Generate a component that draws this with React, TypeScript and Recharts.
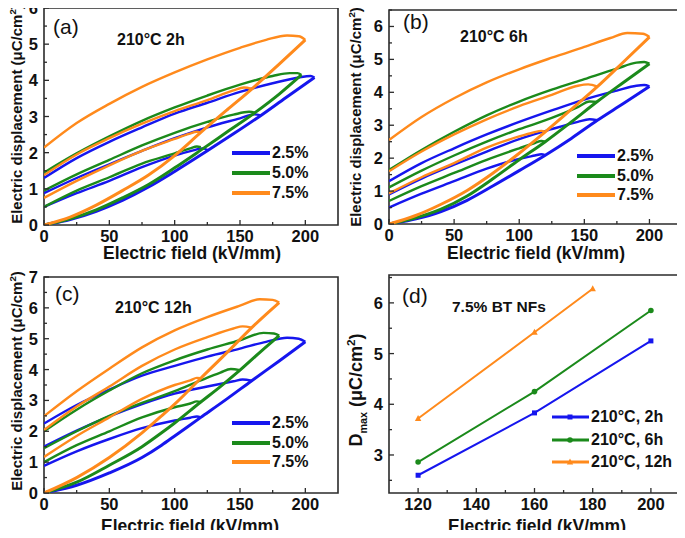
import { Line, LineChart, ReferenceArea, XAxis, YAxis } from "recharts";

type Pt = [number, number];

const BLUE = "#1616ee";
const GREEN = "#1b8a1b";
const ORANGE = "#ff8a1c";
const AXIS = "#2b2b2b";
const FONT = "'Liberation Sans', Arial, Helvetica, sans-serif";

const LOOP_COLORS = [BLUE, GREEN, ORANGE];
const LOOP_LABELS = ["2.5%", "5.0%", "7.5%"];

const FIELD_TICKS = [0, 25, 50, 75, 100, 125, 150, 175, 200];
const FIELD_LABELS = [0, 50, 100, 150, 200];
const DISP_TICKS_6 = [0, 0.5, 1, 1.5, 2, 2.5, 3, 3.5, 4, 4.5, 5, 5.5, 6];
const DISP_TICKS_65 = [0, 0.5, 1, 1.5, 2, 2.5, 3, 3.5, 4, 4.5, 5, 5.5, 6, 6.5];
const DISP_TICKS_7 = [0, 0.5, 1, 1.5, 2, 2.5, 3, 3.5, 4, 4.5, 5, 5.5, 6, 6.5, 7];
const DISP_LABELS = [0, 1, 2, 3, 4, 5, 6, 7];

// (a) 210°C 2h — charging branch + discharge branches of the 3 loops
const a25Charge: Pt[] = [[0, 0], [20, 0.15], [40, 0.38], [60, 0.68], [80, 1.05], [100, 1.48], [125, 2.05], [145, 2.52], [166, 3.03], [185, 3.52], [207, 4.08]];
const a25Loops: Pt[][] = [
  [[0, 0.5], [25, 0.88], [50, 1.22], [75, 1.6], [100, 1.92], [115, 2.07], [121, 2.12], [125, 2.08]],
  [[0, 0.88], [25, 1.3], [50, 1.68], [75, 2.05], [100, 2.4], [125, 2.7], [150, 2.95], [161, 3.06], [166, 3.03]],
  [[0, 1.3], [25, 1.85], [50, 2.3], [75, 2.7], [100, 3.08], [125, 3.38], [150, 3.68], [175, 3.92], [195, 4.08], [204, 4.12], [207, 4.08]],
];
const a50Charge: Pt[] = [[0, 0], [20, 0.17], [40, 0.42], [60, 0.75], [80, 1.12], [100, 1.58], [120, 2.07], [140, 2.57], [162, 3.12], [180, 3.62], [197, 4.15]];
const a50Loops: Pt[][] = [
  [[0, 0.5], [25, 0.95], [50, 1.32], [75, 1.7], [100, 1.98], [112, 2.12], [117, 2.17], [120, 2.15]],
  [[0, 0.95], [25, 1.4], [50, 1.8], [75, 2.2], [100, 2.55], [125, 2.85], [145, 3.05], [157, 3.13], [162, 3.1]],
  [[0, 1.45], [25, 1.98], [50, 2.45], [75, 2.88], [100, 3.25], [125, 3.58], [150, 3.88], [175, 4.12], [188, 4.2], [194, 4.2], [197, 4.15]],
];
const a75Charge: Pt[] = [[0, 0], [20, 0.22], [40, 0.55], [60, 0.95], [80, 1.38], [100, 1.92], [120, 2.56], [140, 3.18], [159, 3.76], [180, 4.45], [200, 5.12]];
const a75Loops: Pt[][] = [
  [[0, 0.75], [25, 1.22], [50, 1.65], [75, 2.05], [100, 2.38], [111, 2.52], [117, 2.58], [120, 2.56]],
  [[0, 1.38], [25, 1.95], [50, 2.4], [75, 2.8], [100, 3.15], [125, 3.45], [145, 3.72], [153, 3.8], [159, 3.76]],
  [[0, 2.14], [25, 2.82], [50, 3.35], [75, 3.82], [100, 4.22], [125, 4.58], [150, 4.9], [170, 5.12], [186, 5.24], [195, 5.22], [200, 5.12]],
];

// (b) 210°C 6h
const b25Charge: Pt[] = [[0, 0], [20, 0.15], [40, 0.38], [60, 0.72], [80, 1.16], [100, 1.62], [120, 2.09], [140, 2.6], [160, 3.15], [180, 3.66], [200, 4.18]];
const b25Loops: Pt[][] = [
  [[0, 0.5], [25, 0.92], [50, 1.3], [75, 1.68], [100, 1.98], [112, 2.08], [117, 2.12], [120, 2.09]],
  [[0, 0.9], [25, 1.38], [50, 1.8], [75, 2.2], [100, 2.58], [125, 2.88], [145, 3.1], [154, 3.18], [160, 3.15]],
  [[0, 1.3], [25, 1.85], [50, 2.3], [75, 2.72], [100, 3.1], [125, 3.45], [150, 3.78], [175, 4.05], [190, 4.2], [196, 4.22], [200, 4.18]],
];
const b50Charge: Pt[] = [[0, 0], [20, 0.18], [40, 0.45], [60, 0.85], [80, 1.38], [100, 1.95], [120, 2.5], [140, 3.1], [160, 3.72], [180, 4.3], [200, 4.87]];
const b50Loops: Pt[][] = [
  [[0, 0.7], [25, 1.15], [50, 1.55], [75, 1.95], [100, 2.3], [112, 2.46], [117, 2.52], [120, 2.5]],
  [[0, 1.11], [25, 1.62], [50, 2.08], [75, 2.5], [100, 2.88], [125, 3.22], [145, 3.55], [154, 3.72], [160, 3.71]],
  [[0, 1.64], [25, 2.25], [50, 2.8], [75, 3.3], [100, 3.72], [125, 4.08], [150, 4.4], [175, 4.72], [190, 4.9], [196, 4.92], [200, 4.87]],
];
const b75Charge: Pt[] = [[0, 0], [20, 0.25], [40, 0.6], [60, 1.02], [80, 1.55], [100, 2.15], [120, 2.8], [140, 3.48], [160, 4.17], [180, 4.92], [200, 5.68]];
const b75Loops: Pt[][] = [
  [[0, 0.93], [25, 1.42], [50, 1.85], [75, 2.32], [100, 2.66], [111, 2.78], [117, 2.83], [120, 2.8]],
  [[0, 1.6], [25, 2.2], [50, 2.72], [75, 3.18], [100, 3.58], [125, 3.92], [145, 4.2], [153, 4.24], [160, 4.17]],
  [[0, 2.55], [25, 3.25], [50, 3.82], [75, 4.3], [100, 4.7], [125, 5.05], [150, 5.38], [170, 5.65], [183, 5.8], [195, 5.78], [200, 5.68]],
];

// (c) 210°C 12h
const c25Charge: Pt[] = [[0, 0], [25, 0.25], [50, 0.65], [75, 1.15], [90, 1.55], [100, 1.85], [120, 2.45], [140, 3.05], [159, 3.64], [180, 4.28], [200, 4.9]];
const c25Loops: Pt[][] = [
  [[0, 0.88], [25, 1.35], [50, 1.75], [75, 2.1], [100, 2.35], [112, 2.44], [117, 2.48], [120, 2.45]],
  [[0, 1.5], [25, 2.02], [50, 2.48], [75, 2.88], [100, 3.22], [125, 3.45], [145, 3.62], [152, 3.68], [159, 3.64]],
  [[0, 2.25], [25, 2.85], [50, 3.35], [75, 3.8], [100, 4.12], [125, 4.42], [150, 4.68], [170, 4.9], [186, 5.03], [195, 5.0], [200, 4.9]],
];
const c50Charge: Pt[] = [[0, 0], [25, 0.35], [50, 0.9], [75, 1.5], [90, 1.95], [100, 2.27], [120, 2.95], [135, 3.45], [150, 3.98], [165, 4.55], [180, 5.1]];
const c50Loops: Pt[][] = [
  [[0, 1.0], [25, 1.55], [50, 2.0], [75, 2.45], [100, 2.78], [112, 2.9], [117, 2.97], [120, 2.95]],
  [[0, 1.45], [25, 2.0], [50, 2.5], [75, 2.92], [100, 3.3], [120, 3.65], [135, 3.9], [143, 4.02], [150, 3.98]],
  [[0, 2.0], [25, 2.7], [50, 3.32], [75, 3.88], [100, 4.3], [125, 4.65], [150, 4.95], [168, 5.19], [176, 5.17], [180, 5.1]],
];
const c75Charge: Pt[] = [[0, 0], [25, 0.5], [50, 1.15], [75, 1.95], [90, 2.5], [100, 2.88], [120, 3.72], [140, 4.55], [159, 5.36], [180, 6.17]];
const c75Loops: Pt[][] = [
  [[0, 1.17], [25, 1.85], [50, 2.45], [75, 3.05], [100, 3.5], [112, 3.65], [117, 3.73], [120, 3.72]],
  [[0, 2.04], [25, 2.8], [50, 3.45], [75, 4.12], [100, 4.65], [125, 5.05], [145, 5.33], [152, 5.4], [159, 5.36]],
  [[0, 2.49], [25, 3.3], [50, 4.03], [75, 4.72], [100, 5.27], [125, 5.7], [150, 6.07], [165, 6.28], [175, 6.26], [180, 6.17]],
];

// (d) Dmax vs field, 7.5% BT NFs
const DMAX_FIELDS = [120, 160, 200];
const DMAX_FIELDS_12H = [120, 160, 180];
const dmax2h = [2.6, 3.83, 5.25];
const dmax6h = [2.86, 4.25, 5.85];
const dmax12h = [3.72, 5.42, 6.28];
const DMAX_LABELS = ["210°C, 2h", "210°C, 6h", "210°C, 12h"];
const DMAX_X_TICKS = [120, 130, 140, 150, 160, 170, 180, 190, 200];
const DMAX_X_LABELS = [120, 140, 160, 180, 200];
const DMAX_Y_TICKS = [2.5, 3, 3.5, 4, 4.5, 5, 5.5, 6, 6.5];
const DMAX_Y_LABELS = [3, 4, 5, 6];

const toXY = (pts: Pt[]) => pts.map(([x, y]) => ({ x, y }));

function bottomTick(labels: number[]) {
  return (props: any) => {
    const { x, y, payload } = props;
    const major = labels.includes(payload.value);
    return (
      <g>
        <line x1={x} y1={y} x2={x} y2={y - (major ? 5 : 3)} stroke={AXIS} strokeWidth={1.3} />
        {major ? (
          <text x={x} y={y + 17} textAnchor="middle" fontSize={16.5} fontWeight={700} fontFamily={FONT} fill="#111">
            {payload.value}
          </text>
        ) : null}
      </g>
    );
  };
}

function leftTick(labels: number[]) {
  return (props: any) => {
    const { x, y, payload } = props;
    const major = labels.includes(payload.value);
    return (
      <g>
        <line x1={x} y1={y} x2={x + (major ? 5 : 3)} y2={y} stroke={AXIS} strokeWidth={1.3} />
        {major ? (
          <text x={x - 6} y={y + 6} textAnchor="end" fontSize={16.5} fontWeight={700} fontFamily={FONT} fill="#111">
            {payload.value}
          </text>
        ) : null}
      </g>
    );
  };
}

type LoopSet = { color: string; charge: Pt[]; loops: Pt[][] };

function LoopPanel({
  left,
  top,
  width,
  height,
  marginTop,
  marginRight,
  yMax,
  yTicks,
  sets,
}: {
  left: number;
  top: number;
  width: number;
  height: number;
  marginTop: number;
  marginRight: number;
  yMax: number;
  yTicks: number[];
  sets: LoopSet[];
}) {
  return (
    <div style={{ position: "absolute", left, top }}>
      <LineChart width={width} height={height} margin={{ top: marginTop, right: marginRight, bottom: 0, left: 0 }}>
        <XAxis
          type="number"
          dataKey="x"
          domain={[0, 225]}
          ticks={FIELD_TICKS}
          interval={0}
          tickSize={0}
          tickMargin={0}
          tickLine={false}
          axisLine={false}
          tick={bottomTick(FIELD_LABELS)}
          height={40}
          allowDataOverflow
        />
        <YAxis
          type="number"
          domain={[0, yMax]}
          ticks={yTicks}
          interval={0}
          tickSize={0}
          tickMargin={0}
          tickLine={false}
          axisLine={false}
          tick={leftTick(DISP_LABELS)}
          width={44}
          allowDataOverflow
        />
        <ReferenceArea x1={0} x2={225} y1={0} y2={yMax} fill="none" fillOpacity={0} stroke={AXIS} strokeWidth={1.6} />
        {sets.flatMap((s, i) => [
          <Line
            key={`charge-${i}`}
            data={toXY(s.charge)}
            dataKey="y"
            type="monotone"
            stroke={s.color}
            strokeWidth={3}
            dot={false}
            isAnimationActive={false}
          />,
          ...s.loops.map((loop, j) => (
            <Line
              key={`loop-${i}-${j}`}
              data={toXY(loop)}
              dataKey="y"
              type="monotone"
              stroke={s.color}
              strokeWidth={2.4}
              dot={false}
              isAnimationActive={false}
            />
          )),
        ])}
      </LineChart>
    </div>
  );
}

function LoopLegend({ left, top, step }: { left: number; top: number; step: number }) {
  return (
    <>
      {LOOP_LABELS.map((label, i) => (
        <div
          key={label}
          style={{ position: "absolute", left, top: top + i * step - 10, height: 20, display: "flex", alignItems: "center" }}
        >
          <div style={{ width: 38, height: 4, background: LOOP_COLORS[i] }} />
          <span style={{ marginLeft: 2, fontSize: 16, fontWeight: 700 }}>{label}</span>
        </div>
      ))}
    </>
  );
}

function Marker({ kind, cx, cy, color }: { kind: number; cx: number; cy: number; color: string }) {
  if (kind === 0) return <rect x={cx - 2.5} y={cy - 2.5} width={5} height={5} fill={color} />;
  if (kind === 1) return <circle cx={cx} cy={cy} r={2.8} fill={color} />;
  return <polygon points={`${cx},${cy - 3.5} ${cx + 3.2},${cy + 2.5} ${cx - 3.2},${cy + 2.5}`} fill={color} />;
}

function DmaxPanel() {
  const series = [
    { fields: DMAX_FIELDS, values: dmax2h, color: BLUE },
    { fields: DMAX_FIELDS, values: dmax6h, color: GREEN },
    { fields: DMAX_FIELDS_12H, values: dmax12h, color: ORANGE },
  ];
  return (
    <div style={{ position: "absolute", left: 345, top: 265 }}>
      <LineChart width={340} height={268} margin={{ top: 10, right: 5, bottom: 0, left: 0 }}>
        <XAxis
          type="number"
          dataKey="x"
          domain={[110, 210]}
          ticks={DMAX_X_TICKS}
          interval={0}
          tickSize={0}
          tickMargin={0}
          tickLine={false}
          axisLine={false}
          tick={bottomTick(DMAX_X_LABELS)}
          height={40}
          allowDataOverflow
        />
        <YAxis
          type="number"
          domain={[2.25, 6.55]}
          ticks={DMAX_Y_TICKS}
          interval={0}
          tickSize={0}
          tickMargin={0}
          tickLine={false}
          axisLine={false}
          tick={leftTick(DMAX_Y_LABELS)}
          width={44}
          allowDataOverflow
        />
        <ReferenceArea x1={110} x2={210} y1={2.25} y2={6.55} fill="none" fillOpacity={0} stroke={AXIS} strokeWidth={1.6} />
        {series.map((s, i) => (
          <Line
            key={DMAX_LABELS[i]}
            data={s.fields.map((x, k) => ({ x, y: s.values[k] }))}
            dataKey="y"
            type="linear"
            stroke={s.color}
            strokeWidth={2}
            dot={(p: any) => <Marker key={`m-${i}-${p.index}`} kind={i} cx={p.cx} cy={p.cy} color={s.color} />}
            isAnimationActive={false}
          />
        ))}
      </LineChart>
    </div>
  );
}

function DmaxLegend() {
  return (
    <>
      {DMAX_LABELS.map((label, i) => (
        <div
          key={label}
          style={{ position: "absolute", left: 552, top: 417 + i * 22.5 - 10, height: 20, display: "flex", alignItems: "center" }}
        >
          <svg width={37} height={10}>
            <line x1={0} y1={5} x2={37} y2={5} stroke={LOOP_COLORS[i]} strokeWidth={3} />
            <Marker kind={i} cx={18} cy={5} color={LOOP_COLORS[i]} />
          </svg>
          <span style={{ marginLeft: 2, fontSize: 16, fontWeight: 700 }}>{label}</span>
        </div>
      ))}
    </>
  );
}

const textAbs = (left: number, top: number, size: number, bold: boolean): React.CSSProperties => ({
  position: "absolute",
  left,
  top,
  fontSize: size,
  fontWeight: bold ? 700 : 400,
  lineHeight: 1,
  whiteSpace: "nowrap",
});

function YTitle({ cx, cy, children, size = 15 }: { cx: number; cy: number; children: React.ReactNode; size?: number }) {
  return (
    <div
      style={{
        position: "absolute",
        left: cx,
        top: cy,
        transform: "translate(-50%, -50%) rotate(-90deg)",
        fontSize: size,
        fontWeight: 700,
        lineHeight: 1,
        whiteSpace: "nowrap",
      }}
    >
      {children}
    </div>
  );
}

function XTitle({ cx, cy }: { cx: number; cy: number }) {
  return (
    <div
      style={{
        position: "absolute",
        left: cx,
        top: cy,
        transform: "translate(-50%, -50%)",
        fontSize: 17.5,
        fontWeight: 700,
        lineHeight: 1,
        whiteSpace: "nowrap",
      }}
    >
      Electric field (kV/mm)
    </div>
  );
}

const dispTitle = (
  <>
    Electric displacement (μC/cm<sup style={{ fontSize: "0.65em" }}>2</sup>)
  </>
);

export default function App() {
  return (
    <div
      style={{
        position: "relative",
        width: 685,
        height: 538,
        margin: -8,
        background: "#fff",
        fontFamily: FONT,
        color: "#111",
      }}
    >
      <LoopPanel
        left={0}
        top={0}
        width={345}
        height={265}
        marginTop={8}
        marginRight={7}
        yMax={6}
        yTicks={DISP_TICKS_6}
        sets={[
          { color: BLUE, charge: a25Charge, loops: a25Loops },
          { color: GREEN, charge: a50Charge, loops: a50Loops },
          { color: ORANGE, charge: a75Charge, loops: a75Loops },
        ]}
      />
      <LoopPanel
        left={345}
        top={0}
        width={340}
        height={264}
        marginTop={10}
        marginRight={3}
        yMax={6.5}
        yTicks={DISP_TICKS_65}
        sets={[
          { color: BLUE, charge: b25Charge, loops: b25Loops },
          { color: GREEN, charge: b50Charge, loops: b50Loops },
          { color: ORANGE, charge: b75Charge, loops: b75Loops },
        ]}
      />
      <LoopPanel
        left={0}
        top={265}
        width={345}
        height={268}
        marginTop={12}
        marginRight={7}
        yMax={7}
        yTicks={DISP_TICKS_7}
        sets={[
          { color: BLUE, charge: c25Charge, loops: c25Loops },
          { color: GREEN, charge: c50Charge, loops: c50Loops },
          { color: ORANGE, charge: c75Charge, loops: c75Loops },
        ]}
      />
      <DmaxPanel />

      <LoopLegend left={232} top={153} step={20} />
      <LoopLegend left={577} top={156} step={19.5} />
      <LoopLegend left={232} top={423} step={19.5} />
      <DmaxLegend />

      <div style={textAbs(53, 16, 21, false)}>(a)</div>
      <div style={textAbs(117, 31.5, 16, true)}>210°C 2h</div>
      <div style={textAbs(403, 11, 21, false)}>(b)</div>
      <div style={textAbs(460, 28.5, 16, true)}>210°C 6h</div>
      <div style={textAbs(55, 283, 21, false)}>(c)</div>
      <div style={textAbs(115, 300, 16, true)}>210°C 12h</div>
      <div style={textAbs(402, 285, 21, false)}>(d)</div>
      <div style={textAbs(452, 298.5, 15.5, true)}>7.5% BT NFs</div>

      <YTitle cx={16} cy={114}>{dispTitle}</YTitle>
      <YTitle cx={355} cy={117}>{dispTitle}</YTitle>
      <YTitle cx={16} cy={381}>{dispTitle}</YTitle>
      <YTitle cx={357} cy={390} size={18}>
        D<sub style={{ fontSize: "0.6em" }}>max</sub> (μC/cm<sup style={{ fontSize: "0.65em" }}>2</sup>)
      </YTitle>

      <XTitle cx={192} cy={254} />
      <XTitle cx={536} cy={254} />
      <XTitle cx={190} cy={527} />
      <XTitle cx={537} cy={527} />
    </div>
  );
}
